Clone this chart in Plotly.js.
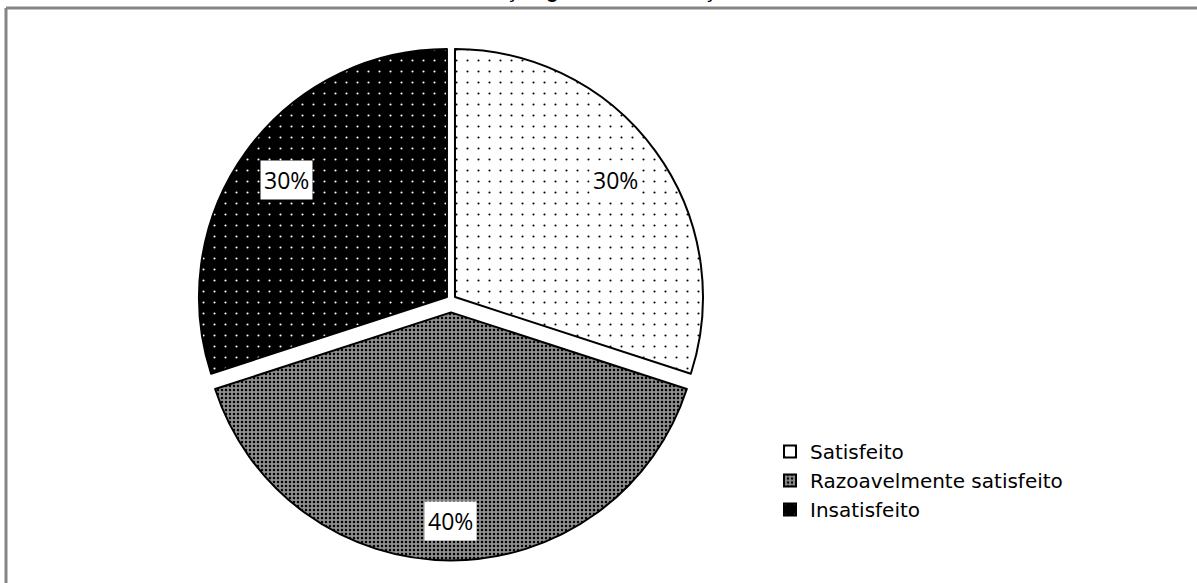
<!DOCTYPE html>
<html><head><meta charset="utf-8">
<script src="https://cdn.plot.ly/plotly-3.0.1.min.js"></script>
<style>
html,body{margin:0;padding:0;background:#fff}
#chart{width:1197px;height:583px}
</style>
</head><body><div id="chart"></div>
<script>
const categories = ['Satisfeito', 'Razoavelmente satisfeito', 'Insatisfeito'];
const values = [30, 40, 30];
const pulls = [0.02, 0.05, 0.02];
const labelTexts = ['30%', '40%', '30%'];
const titleText = 'Avaliação global das condições';

const W = 1197, H = 583;
const dom = {x: [0.1592, 0.5943], y: [0.0388, 0.9321]};

// geometry of the pie (same rule Plotly uses) to place the boxed labels
const boxW = (dom.x[1] - dom.x[0]) * W, boxH = (dom.y[1] - dom.y[0]) * H;
const maxPull = Math.max(...pulls);
const r = Math.min(boxW, boxH) / (2 + 2 * maxPull);
const cxPx = (dom.x[0] + dom.x[1]) / 2 * W;
const cyPx = (1 - (dom.y[0] + dom.y[1]) / 2) * H;
const total = values.reduce((a, b) => a + b, 0);
const labelR = [0.8, 0.84, 0.8];
let cum = 0;
const annotations = [];
values.forEach((v, i) => {
  const mid = (cum + v / 2) / total * 2 * Math.PI;
  cum += v;
  const dx = Math.sin(mid), dy = -Math.cos(mid);
  const rr = r * (pulls[i] + labelR[i]);
  const px = cxPx + rr * dx, py = cyPx + rr * dy;
  annotations.push({
    xref: 'paper', yref: 'paper', x: px / W, y: 1 - py / H,
    xanchor: 'center', yanchor: 'middle',
    text: labelTexts[i], showarrow: false, bgcolor: '#ffffff', borderpad: 3,
    font: {family: 'Open Sans, sans-serif', size: 23, color: '#000'}
  });
});
// chart title, mostly above the top edge as in the reference
annotations.push({
  xref: 'paper', yref: 'paper', x: 0.5, y: 1 + 9 / H, xanchor: 'center', yanchor: 'middle',
  text: '<b>' + titleText + '</b>', showarrow: false,
  font: {family: 'Liberation Sans, Arial, sans-serif', size: 20, color: '#000'}
});

const frame = [
  {type: 'line', xref: 'paper', yref: 'paper', x0: 6 / W, x1: 1, y0: 1 - 8 / H, y1: 1 - 8 / H, line: {color: '#858585', width: 3}},
  {type: 'line', xref: 'paper', yref: 'paper', x0: 6 / W, x1: 6 / W, y0: 1 - 8 / H, y1: 0, line: {color: '#858585', width: 3}}
];

const trace = {
  type: 'pie',
  labels: categories,
  values: values,
  pull: pulls,
  sort: false,
  direction: 'clockwise',
  rotation: 0,
  textinfo: 'none',
  hoverinfo: 'label+percent',
  domain: dom,
  marker: {
    colors: ['#ffffff', '#8e8e8e', '#000000'],
    line: {color: '#000000', width: 2},
    pattern: {
      shape: ['.', '.', '.'],
      fgcolor: ['#000000', '#000000', '#ffffff'],
      bgcolor: ['#ffffff', '#8e8e8e', '#000000'],
      size: [11, 4, 11],
      solidity: [0.03, 0.3, 0.03],
      fillmode: 'replace'
    }
  }
};

const layout = {
  width: W, height: H,
  margin: {l: 0, r: 0, t: 0, b: 0},
  paper_bgcolor: '#ffffff',
  plot_bgcolor: '#ffffff',
  showlegend: true,
  legend: {x: 770 / W, y: 1 - 432 / H, xanchor: 'left', yanchor: 'top', bgcolor: 'rgba(0,0,0,0)',
           font: {family: 'DejaVu Sans, sans-serif', size: 20, color: '#000'}, tracegroupgap: 0, itemwidth: 30},
  shapes: frame,
  annotations: annotations
};

Plotly.newPlot('chart', [trace], layout, {displayModeBar: false, staticPlot: true});
</script>
</body></html>
